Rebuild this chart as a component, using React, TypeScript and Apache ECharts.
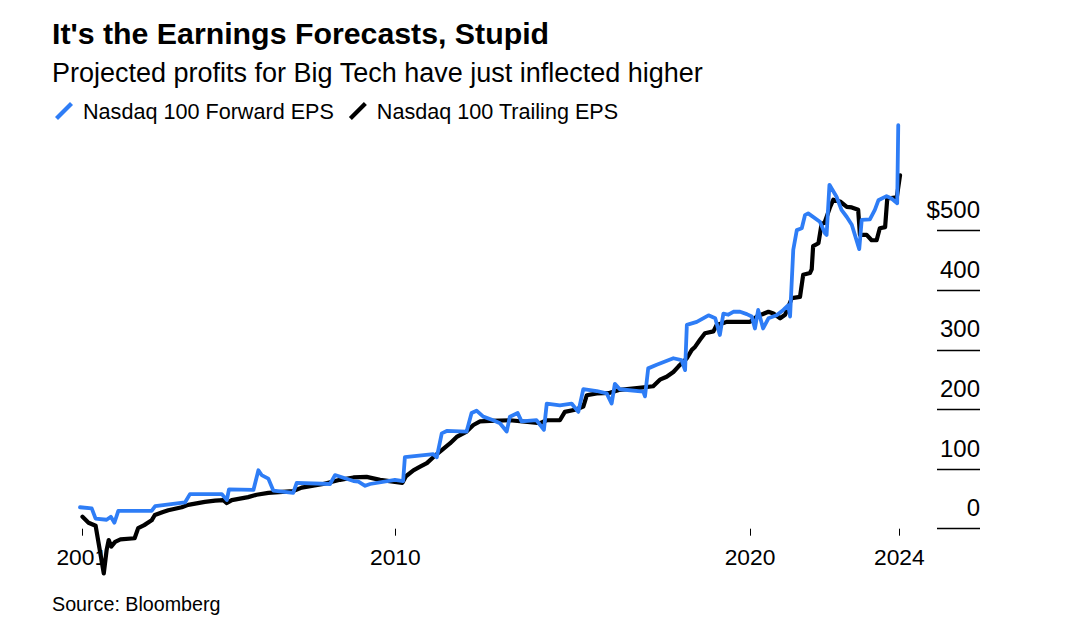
import React, { useEffect, useRef } from 'react';
import * as echarts from 'echarts';

const TITLE = "It's the Earnings Forecasts, Stupid";
const SUBTITLE = 'Projected profits for Big Tech have just inflected higher';
const SOURCE = 'Source: Bloomberg';
const FWD_NAME = 'Nasdaq 100 Forward EPS';
const TRL_NAME = 'Nasdaq 100 Trailing EPS';

// Decimal-year dates and values
const fwdYears = [
  2001.11, 2001.44, 2001.55, 2001.86, 2001.98, 2002.08, 2002.19, 2003.13, 2003.23, 2004.07,
  2004.21, 2005.11, 2005.25, 2005.31, 2006.0, 2006.14, 2006.23, 2006.42, 2006.56, 2007.12,
  2007.22, 2008.16, 2008.3, 2008.82, 2008.96, 2009.15, 2009.29, 2009.99, 2010.22, 2010.27,
  2011.07, 2011.17, 2011.31, 2011.45, 2012.01, 2012.15, 2012.29, 2012.48, 2012.76, 2012.95,
  2013.14, 2013.23, 2013.45, 2013.56, 2013.98, 2014.19, 2014.27, 2014.64, 2014.97, 2015.16,
  2015.3, 2015.68, 2015.96, 2016.1, 2016.19, 2016.33, 2016.99, 2017.04, 2017.13, 2017.37,
  2017.84, 2018.07, 2018.17, 2018.22, 2018.5, 2018.83, 2019.02, 2019.15, 2019.25, 2019.39,
  2019.53, 2019.72, 2019.91, 2020.05, 2020.14, 2020.23, 2020.37, 2020.52, 2020.75, 2020.94,
  2021.08, 2021.13, 2021.22, 2021.32, 2021.46, 2021.55, 2021.64, 2021.97, 2022.11, 2022.16,
  2022.24, 2022.44, 2022.58, 2022.73, 2022.87, 2023.08, 2023.15, 2023.38, 2023.52, 2023.62,
  2023.85, 2023.99, 2024.15, 2024.18,
];
const fwdValues = [
  36, 34, 17, 15, 20, 10, 30, 30, 38, 44,
  58, 58, 48, 66, 65, 98, 90, 84, 64, 60,
  77, 75, 90, 80, 79, 72, 75, 82, 80, 120,
  125, 120, 160, 164, 163, 194, 198, 188, 182, 177,
  163, 188, 194, 180, 182, 166, 210, 207, 210, 196,
  234, 231, 227, 210, 243, 234, 230, 222, 269, 275,
  286, 283, 266, 342, 347, 358, 353, 325, 361, 359,
  364, 364, 360, 356, 336, 367, 336, 353, 358, 367,
  375, 356, 468, 501, 504, 526, 529, 515, 496, 493,
  577, 557, 535, 523, 510, 469, 518, 519, 535, 551,
  558, 554, 546, 677,
];

const trlYears = [
  2001.18, 2001.35, 2001.55, 2001.78, 2001.86, 2001.92, 2001.99, 2002.1,
  2002.25, 2002.65, 2002.75, 2002.92, 2003.13, 2003.22, 2003.45, 2003.6, 2003.98, 2004.16,
  2004.63, 2004.92, 2005.15, 2005.25, 2005.39, 2005.85, 2006.09, 2006.42, 2007.12, 2007.36,
  2007.97, 2008.44, 2008.82, 2009.19, 2009.57, 2010.2, 2010.3, 2010.51, 2010.7, 2010.89,
  2011.07, 2011.31, 2011.54, 2011.73, 2012.01, 2012.2, 2012.39, 2012.67, 2013.23, 2014.08,
  2014.27, 2014.64, 2014.78, 2015.1, 2015.3, 2015.4, 2015.68, 2016.05, 2016.33, 2016.81,
  2017.27, 2017.46, 2017.65, 2017.84, 2017.98, 2018.22, 2018.36, 2018.45, 2018.59, 2018.73,
  2018.97, 2019.06, 2019.25, 2019.34, 2020.0, 2020.19, 2020.52, 2020.66, 2020.85, 2020.99,
  2021.18, 2021.41, 2021.5, 2021.69, 2021.74, 2021.78, 2021.93, 2022.02, 2022.1, 2022.26,
  2022.35, 2022.54, 2022.73, 2022.87, 2023.05, 2023.1, 2023.29, 2023.43, 2023.57, 2023.66,
  2023.81, 2023.87, 2024.14, 2024.23,
];
const trlValues = [
  20, 10, 5, -75, -36, -19, -30, -22,
  -18, -16, 1, 6, 14, 23, 28, 31, 36, 40,
  45, 47, 48, 43, 48, 53, 57, 60, 63, 69,
  75, 82, 86, 87, 82, 77, 88, 98, 104, 110,
  120, 132, 143, 154, 163, 174, 180, 181, 182, 177,
  182, 182, 196, 200, 205, 224, 227, 228, 233, 236,
  239, 250, 255, 263, 272, 286, 300, 305, 317, 328,
  331, 342, 345, 347, 347, 356, 364, 361, 353, 359,
  387, 389, 426, 429, 435, 474, 479, 512, 513, 540,
  552, 549, 540, 539, 535, 493, 493, 484, 484, 504,
  506, 554, 556, 593,
];

const xTickValues = [2001.16, 2010, 2020, 2024.21];
const xTickLabels = ['2001', '2010', '2020', '2024'];
const yTickValues = [0, 100, 200, 300, 400, 500];
const yTickLabels = ['0', '100', '200', '300', '400', '$500'];

const FONT = '"Liberation Sans", Arial, Helvetica, sans-serif';
const BLUE = '#2e7df6';
const BLACK = '#000000';

export default function App() {
  const ref = useRef<HTMLDivElement>(null);
  useEffect(() => {
    document.body.style.margin = '0';
    const chart = echarts.init(ref.current as HTMLDivElement, null, { renderer: 'svg' });
    const fwdData = fwdYears.map((y, i) => [y, fwdValues[i]]);
    const trlData = trlYears.map((y, i) => [y, trlValues[i]]);
    chart.setOption({
      animation: false,
      backgroundColor: '#ffffff',
      textStyle: { fontFamily: FONT },
      title: [
        {
          text: TITLE,
          left: 47,
          top: 13,
          textStyle: { fontFamily: FONT, fontSize: 30.3, fontWeight: 'bold', color: '#000' },
        },
        {
          text: SUBTITLE,
          left: 47,
          top: 54,
          textStyle: { fontFamily: FONT, fontSize: 27, fontWeight: 'normal', color: '#000' },
        },
        {
          text: SOURCE,
          left: 47,
          top: 589,
          textStyle: { fontFamily: FONT, fontSize: 19.7, fontWeight: 'normal', color: '#000' },
        },
      ],
      legend: {
        left: 50,
        top: 95,
        data: [FWD_NAME, TRL_NAME],
        icon: 'path://M0,15 L15,0 L18,3 L3,18 Z',
        itemWidth: 18,
        itemHeight: 18,
        itemGap: 15,
        selectedMode: false,
        textStyle: { fontFamily: FONT, fontSize: 21.6, color: '#000', padding: [0, 0, 0, 5] },
      },
      grid: { left: 76.1, right: 158.4, top: 111.5, bottom: 95.3, containLabel: false },
      xAxis: {
        type: 'value',
        min: 2001,
        max: 2024.5,
        axisLine: { show: false },
        splitLine: { show: false },
        axisTick: {
          show: true,
          length: 7,
          customValues: xTickValues,
          lineStyle: { color: '#000', width: 1 },
        },
        axisLabel: {
          customValues: xTickValues,
          formatter: (v: number) => {
            const i = xTickValues.indexOf(v);
            return i >= 0 ? xTickLabels[i] : '';
          },
          margin: 17,
          fontSize: 22.8,
          fontFamily: FONT,
          color: '#000',
        },
      },
      yAxis: {
        type: 'value',
        position: 'right',
        offset: 70.4,
        min: 0,
        max: 700,
        axisLine: { show: false },
        splitLine: { show: false },
        axisTick: {
          show: true,
          inside: true,
          length: 43,
          customValues: yTickValues,
          lineStyle: { color: '#000', width: 1.3 },
        },
        axisLabel: {
          inside: true,
          customValues: yTickValues,
          margin: 0,
          align: 'right',
          verticalAlign: 'bottom',
          padding: [0, 0, 9, 0],
          formatter: (v: number) => {
            const i = yTickValues.indexOf(v);
            return i >= 0 ? yTickLabels[i] : '';
          },
          fontSize: 24,
          fontFamily: FONT,
          color: '#000',
        },
      },
      series: [
        {
          name: TRL_NAME,
          type: 'line',
          data: trlData,
          showSymbol: false,
          clip: false,
          color: BLACK,
          lineStyle: { color: BLACK, width: 4.2, cap: 'round', join: 'round' },
          z: 3,
        },
        {
          name: FWD_NAME,
          type: 'line',
          data: fwdData,
          showSymbol: false,
          clip: false,
          color: BLUE,
          lineStyle: { color: BLUE, width: 3.8, cap: 'round', join: 'round' },
          z: 4,
        },
      ],
    });
    return () => chart.dispose();
  }, []);
  return <div ref={ref} style={{ width: 1068, height: 624, background: '#fff' }} />;
}
